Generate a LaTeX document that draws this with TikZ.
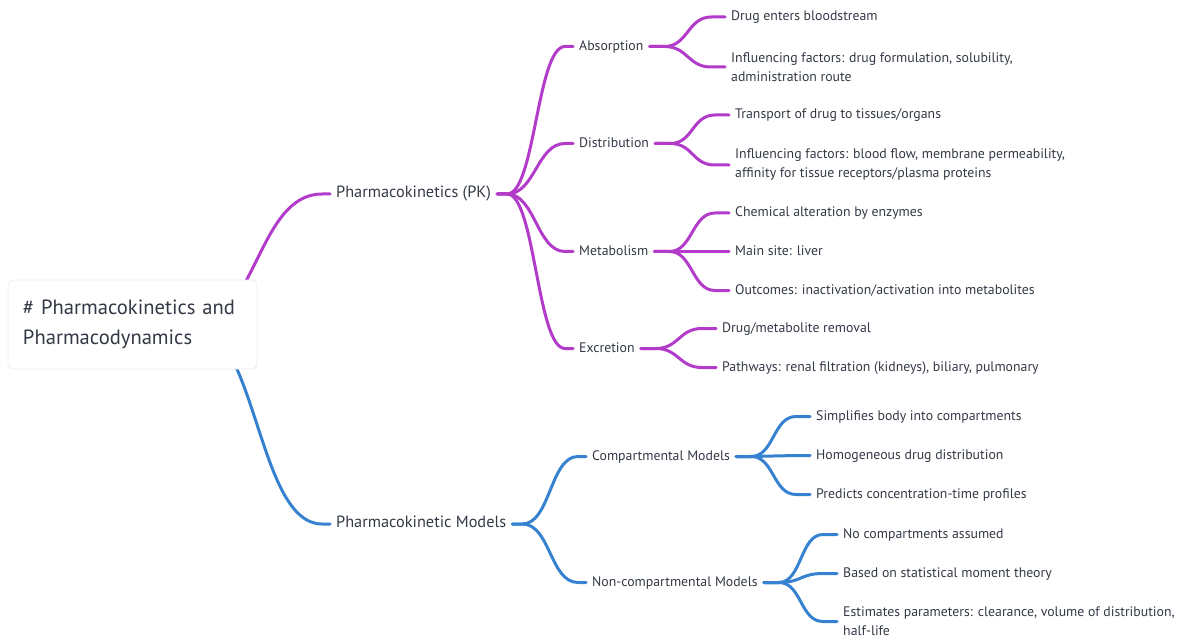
\documentclass[tikz,border=0pt]{standalone}
\usepackage{fontspec}
\setmainfont{PT Sans}
\usetikzlibrary{backgrounds}
\definecolor{pkpurple}{HTML}{B33BC9}
\definecolor{pkblue}{HTML}{3682D0}
\definecolor{txtgray}{HTML}{333945}

\begin{document}
\begin{tikzpicture}[x=1pt, y=-1pt,
    rootbox/.style={rectangle, rounded corners=5pt, draw=black!7, line width=0.8pt, fill=white, minimum width=249pt, minimum height=89pt, text width=219pt, align=left, inner xsep=15pt, text=txtgray, font=\fontsize{20.6}{30}\selectfont},
    topic/.style={anchor=west, inner xsep=6pt, inner ysep=0pt, text height=0.72em, text depth=0pt, text=txtgray, font=\fontsize{13.8}{19}\selectfont},
    bigtopic/.style={topic, font=\fontsize{16.3}{19}\selectfont},
    leaf/.style={anchor=west, inner xsep=6pt, inner ysep=0pt, align=left, text=txtgray, font=\fontsize{13.8}{19}\selectfont},
    pklink/.style={line width=3pt, draw=pkpurple, line cap=round, line join=round},
    mlink/.style={line width=3pt, draw=pkblue, line cap=round, line join=round},
]
\useasboundingbox (0,0) rectangle (1181,639);

% Root
\node[rootbox] (root) at (132.5,324.5) {\# Pharmacokinetics and\\Pharmacodynamics};
\coordinate (rootout) at (192,325);

% Main branches
\node[bigtopic] (pk) at (330,194) {Pharmacokinetics (PK)};
\node[bigtopic] (pkm) at (330,524) {Pharmacokinetic Models};

% PK stages
\node[topic] (abs) at (573,46.5) {Absorption};
\node[topic] (dist) at (573,143.5) {Distribution};
\node[topic] (met) at (573,251.5) {Metabolism};
\node[topic] (exc) at (573,348.5) {Excretion};

% Absorption
\node[topic] (abs1) at (725,17) {Drug enters bloodstream};
\node[leaf] (abs2) at (725,67) {Influencing factors: drug formulation, solubility,\\administration route};

% Distribution
\node[topic] (dist1) at (729,115) {Transport of drug to tissues/organs};
\node[leaf] (dist2) at (729,165) {Influencing factors: blood flow, membrane permeability,\\affinity for tissue receptors/plasma proteins};

% Metabolism
\node[topic] (met1) at (729,213) {Chemical alteration by enzymes};
\node[topic] (met2) at (729,251.5) {Main site: liver};
\node[topic] (met3) at (729,290.5) {Outcomes: inactivation/activation into metabolites};

% Excretion
\node[topic] (exc1) at (716,328.5) {Drug/metabolite removal};
\node[topic] (exc2) at (716,367.5) {Pathways: renal filtration (kidneys), biliary, pulmonary};

% Model types
\node[topic] (comp) at (586,456.5) {Compartmental Models};
\node[topic] (ncomp) at (586,582.5) {Non-compartmental Models};

% Compartmental
\node[topic] (comp1) at (810,416.5) {Simplifies body into compartments};
\node[topic] (comp2) at (810,455.5) {Homogeneous drug distribution};
\node[topic] (comp3) at (810,494.5) {Predicts concentration-time profiles};

% Non-compartmental
\node[topic] (ncomp1) at (837,534.5) {No compartments assumed};
\node[topic] (ncomp2) at (837,573.5) {Based on statistical moment theory};
\node[leaf] (ncomp3) at (837,621.5) {Estimates parameters: clearance, volume of distribution,\\half-life};

% Root links (under the root box)
\begin{scope}[on background layer]
\draw[pklink] (rootout) .. controls +(65,0) and +(-65,0) .. ([xshift=-8pt]pk.west) -- (pk.west);
\draw[mlink] (rootout) .. controls +(65,0) and +(-65,0) .. ([xshift=-8pt]pkm.west) -- (pkm.west);
\end{scope}

% Level 2 links
\foreach \c in {abs,dist,met,exc}
    \draw[pklink] (pk.east) -- ++(10,0) .. controls +(28,0) and +(-28,0) .. ([xshift=-8pt]\c.west) -- (\c.west);
\foreach \c in {comp,ncomp}
    \draw[mlink] (pkm.east) -- ++(10,0) .. controls +(28,0) and +(-28,0) .. ([xshift=-8pt]\c.west) -- (\c.west);

% Level 3 links
\foreach \p/\c in {abs/abs1, abs/abs2, dist/dist1, dist/dist2, met/met1, met/met2, met/met3, exc/exc1, exc/exc2}
    \draw[pklink] (\p.east) -- ++(15,0) .. controls +(23,0) and +(-23,0) .. ([xshift=-14pt]\c.west) -- (\c.west);
\foreach \p/\c in {comp/comp1, comp/comp2, comp/comp3, ncomp/ncomp1, ncomp/ncomp2, ncomp/ncomp3}
    \draw[mlink] (\p.east) -- ++(15,0) .. controls +(23,0) and +(-23,0) .. ([xshift=-14pt]\c.west) -- (\c.west);

\end{tikzpicture}
\end{document}
